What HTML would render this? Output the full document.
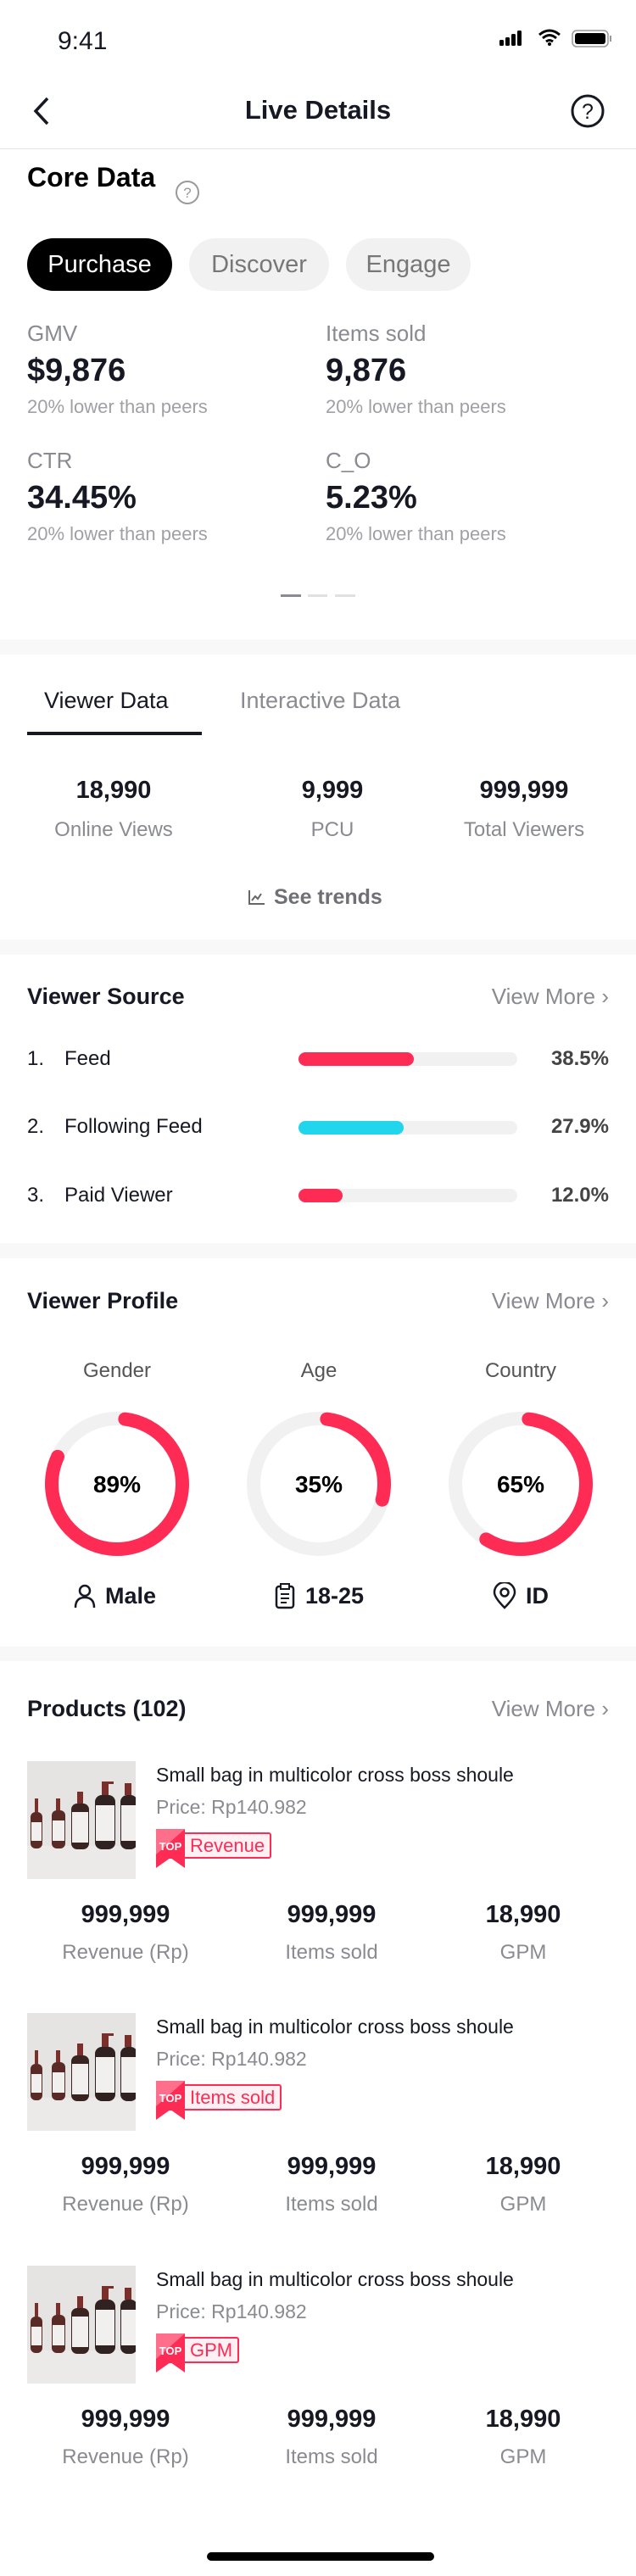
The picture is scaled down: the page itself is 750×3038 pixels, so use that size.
<!DOCTYPE html>
<html><head><meta charset="utf-8">
<style>
*{margin:0;padding:0;box-sizing:border-box}
body{width:750px;height:3038px;background:#fff;position:relative;overflow:hidden;font-family:"Liberation Sans",sans-serif;color:#161823}
.a{position:absolute;white-space:nowrap;line-height:1}
.g{color:#8a8b91}
.b{font-weight:bold}
.band{position:absolute;left:0;width:750px;background:#f8f8f8}
.c{text-align:center;width:240px}
.vm{position:absolute;right:32px;font-size:26px;color:#8a8b91;line-height:1;white-space:nowrap}
.bar{position:absolute;left:352px;width:258px;height:16px;border-radius:8px;background:#f1f1f2}
.bar i{position:absolute;left:0;top:0;height:16px;border-radius:8px;background:#fe2c55}
.pill{position:absolute;top:281px;height:62px;border-radius:31px;font-size:29px;line-height:62px;text-align:center}
.badge{position:absolute;height:31px;border:2px solid #fe2c55;border-radius:3px;background:#fff0f3;color:#fe2c55;font-size:22px;line-height:27px;padding:0 6px 0 38px}
.sub{font-size:22px;color:#a0a0a5}
.pct{position:absolute;right:32px;font-size:24px;color:#444;font-weight:bold;line-height:1}
</style></head><body>
<div class="a" style="left:68px;top:34px;font-size:30px">9:41</div>
<svg class="a" style="left:586px;top:34px" width="140" height="24">
<rect x="3" y="13" width="5" height="7" rx="1.5" fill="#000"/><rect x="10" y="10" width="5" height="10" rx="1.5" fill="#000"/><rect x="17" y="6" width="5" height="14" rx="1.5" fill="#000"/><rect x="24" y="2" width="5" height="18" rx="1.5" fill="#000"/>
<path d="M50 7 Q62 -3 74 7 M54 11 Q62 4 70 11 M58 15 Q62 12 66 15" stroke="#000" stroke-width="3" fill="none"/><circle cx="62" cy="18" r="2" fill="#000"/>
<rect x="89" y="2" width="42" height="19" rx="5" fill="none" stroke="#999" stroke-width="1.5"/><rect x="92" y="5" width="36" height="13" rx="3" fill="#000"/><rect x="133" y="8" width="2" height="7" fill="#999"/>
</svg>
<svg class="a" style="left:32px;top:112px" width="30" height="40"><path d="M24 4 L10 19 L24 34" stroke="#161823" stroke-width="3.5" fill="none"/></svg>
<div class="a b" style="left:0;width:750px;text-align:center;top:114px;font-size:31px">Live Details</div>
<svg class="a" style="left:672px;top:110px" width="42" height="42"><circle cx="21" cy="21" r="18" stroke="#161823" stroke-width="3" fill="none"/><text x="21" y="30" text-anchor="middle" font-size="25" font-family="Liberation Sans" fill="#161823">?</text></svg>
<div style="position:absolute;left:0;top:175px;width:750px;height:1px;background:#e3e3e4"></div>

<div class="a b" style="left:32px;top:193px;font-size:32px;color:#000">Core Data</div>
<svg class="a" style="left:206px;top:212px" width="30" height="30"><circle cx="15" cy="15" r="13" stroke="#999" stroke-width="2" fill="none"/><text x="15" y="21" text-anchor="middle" font-size="17" font-family="Liberation Sans" fill="#999">?</text></svg>
<div class="pill" style="left:32px;width:171px;background:#000;color:#fff">Purchase</div>
<div class="pill" style="left:223px;width:165px;background:#f1f1f2;color:#777">Discover</div>
<div class="pill" style="left:408px;width:147px;background:#f1f1f2;color:#777">Engage</div>

<div class="a g" style="left:32px;top:380px;font-size:26px">GMV</div>
<div class="a b" style="left:32px;top:418px;font-size:38px">$9,876</div>
<div class="a sub" style="left:32px;top:469px">20% lower than peers</div>
<div class="a g" style="left:384px;top:380px;font-size:26px">Items sold</div>
<div class="a b" style="left:384px;top:418px;font-size:38px">9,876</div>
<div class="a sub" style="left:384px;top:469px">20% lower than peers</div>
<div class="a g" style="left:32px;top:530px;font-size:26px">CTR</div>
<div class="a b" style="left:32px;top:568px;font-size:38px">34.45%</div>
<div class="a sub" style="left:32px;top:619px">20% lower than peers</div>
<div class="a g" style="left:384px;top:530px;font-size:26px">C_O</div>
<div class="a b" style="left:384px;top:568px;font-size:38px">5.23%</div>
<div class="a sub" style="left:384px;top:619px">20% lower than peers</div>
<div style="position:absolute;left:331px;top:701px;width:24px;height:3px;background:#8a8b91"></div>
<div style="position:absolute;left:363px;top:701px;width:23px;height:3px;background:#e0e0e2"></div>
<div style="position:absolute;left:395px;top:701px;width:24px;height:3px;background:#e0e0e2"></div>

<div class="band" style="top:754px;height:18px"></div>
<div class="a" style="left:52px;top:813px;font-size:27px">Viewer Data</div>
<div class="a g" style="left:283px;top:813px;font-size:27px">Interactive Data</div>
<div style="position:absolute;left:32px;top:863px;width:206px;height:4px;background:#161823"></div>
<div class="a b c" style="left:14px;top:918px;font-size:29px">18,990</div>
<div class="a g c" style="left:14px;top:967px;font-size:24px">Online Views</div>
<div class="a b c" style="left:272px;top:918px;font-size:29px">9,999</div>
<div class="a g c" style="left:272px;top:967px;font-size:24px">PCU</div>
<div class="a b c" style="left:498px;top:918px;font-size:29px">999,999</div>
<div class="a g c" style="left:498px;top:967px;font-size:24px">Total Viewers</div>
<svg class="a" style="left:292px;top:1048px" width="22" height="22"><path d="M2 2 V18 H20 M5 14 L9 9 L12 12 L16 6" stroke="#666" stroke-width="2" fill="none"/></svg>
<div class="a b" style="left:323px;top:1046px;font-size:25px;color:#6f7075">See trends</div>

<div class="band" style="top:1108px;height:18px"></div>
<div class="a b" style="left:32px;top:1162px;font-size:27px">Viewer Source</div>
<div class="vm" style="top:1162px">View More ›</div>
<div class="a" style="left:32px;top:1237px;font-size:24px">1.</div><div class="a" style="left:76px;top:1237px;font-size:24px">Feed</div>
<div class="bar" style="top:1241px"><i style="width:136px"></i></div>
<div class="pct" style="top:1237px">38.5%</div>
<div class="a" style="left:32px;top:1317px;font-size:24px">2.</div><div class="a" style="left:76px;top:1317px;font-size:24px">Following Feed</div>
<div class="bar" style="top:1322px"><i style="width:124px;background:#20d5ec"></i></div>
<div class="pct" style="top:1317px">27.9%</div>
<div class="a" style="left:32px;top:1398px;font-size:24px">3.</div><div class="a" style="left:76px;top:1398px;font-size:24px">Paid Viewer</div>
<div class="bar" style="top:1402px"><i style="width:52px"></i></div>
<div class="pct" style="top:1398px">12.0%</div>

<div class="band" style="top:1466px;height:18px"></div>
<div class="a b" style="left:32px;top:1521px;font-size:27px">Viewer Profile</div>
<div class="vm" style="top:1521px">View More ›</div>
<div class="a c" style="left:18px;top:1605px;font-size:24px;color:#555">Gender</div>
<div class="a c" style="left:256px;top:1605px;font-size:24px;color:#555">Age</div>
<div class="a c" style="left:494px;top:1605px;font-size:24px;color:#555">Country</div>
<svg class="a" style="left:0;top:1650px" width="750" height="200">
<g fill="none" stroke-width="16" stroke-linecap="round">
<circle cx="138" cy="100" r="77" stroke="#f1f1f2"/>
<circle cx="376" cy="100" r="77" stroke="#f1f1f2"/>
<circle cx="614" cy="100" r="77" stroke="#f1f1f2"/>
<circle cx="138" cy="100" r="77" stroke="#fe2c55" pathLength="100" stroke-dasharray="80 100" transform="rotate(-83 138 100)"/>
<circle cx="376" cy="100" r="77" stroke="#fe2c55" pathLength="100" stroke-dasharray="27 100" transform="rotate(-83 376 100)"/>
<circle cx="614" cy="100" r="77" stroke="#fe2c55" pathLength="100" stroke-dasharray="57 100" transform="rotate(-83 614 100)"/>
</g>
<g font-family="Liberation Sans" font-size="28" font-weight="bold" text-anchor="middle" fill="#000"><text x="138" y="110">89%</text><text x="376" y="110">35%</text><text x="614" y="110">65%</text></g>
</svg>
<svg class="a" style="left:86px;top:1868px" width="30" height="30"><circle cx="14" cy="8" r="6" stroke="#161823" stroke-width="2.5" fill="none"/><path d="M3 28 Q3 16 14 16 Q25 16 25 28" stroke="#161823" stroke-width="2.5" fill="none"/></svg>
<div class="a b" style="left:124px;top:1869px;font-size:27px">Male</div>
<svg class="a" style="left:323px;top:1866px" width="26" height="32"><rect x="3" y="5" width="20" height="25" rx="3" stroke="#161823" stroke-width="2.5" fill="none"/><rect x="8" y="2" width="10" height="6" fill="#fff" stroke="#161823" stroke-width="2"/><path d="M8 14H18M8 19H18M8 24H15" stroke="#161823" stroke-width="2"/></svg>
<div class="a b" style="left:360px;top:1869px;font-size:27px">18-25</div>
<svg class="a" style="left:581px;top:1866px" width="28" height="32"><path d="M14 30 Q2 18 2 12 A12 12 0 0 1 26 12 Q26 18 14 30Z" stroke="#161823" stroke-width="2.5" fill="none"/><circle cx="14" cy="12" r="4.5" stroke="#161823" stroke-width="2.5" fill="none"/></svg>
<div class="a b" style="left:620px;top:1869px;font-size:27px">ID</div>

<div class="band" style="top:1942px;height:17px"></div>
<div class="a b" style="left:32px;top:2002px;font-size:27px">Products (102)</div>
<div class="vm" style="top:2002px">View More ›</div>

<div style="position:absolute;left:0;top:2077px;width:750px;height:260px">
<svg style="position:absolute;left:32px;top:0" width="128" height="139"><rect width="128" height="139" fill="#e6e4e2"/><rect y="100" width="128" height="39" fill="#eceae8"/>
<g><rect x="4" y="60" width="14" height="43" rx="6" fill="#5a2a26"/><rect x="5" y="72" width="12" height="22" fill="#f2f0ee"/><rect x="9" y="44" width="4" height="16" fill="#7a2f2a"/>
<rect x="29" y="58" width="16" height="45" rx="6" fill="#5a2a26"/><rect x="30" y="70" width="14" height="24" fill="#f2f0ee"/><rect x="34" y="44" width="5" height="14" fill="#7a2f2a"/>
<rect x="52" y="50" width="21" height="54" rx="7" fill="#3a2422"/><rect x="53" y="60" width="19" height="36" fill="#f2f0ee"/><rect x="59" y="36" width="7" height="14" fill="#7a2f2a"/>
<rect x="80" y="40" width="24" height="64" rx="8" fill="#2f2220"/><rect x="81" y="52" width="22" height="42" fill="#f2f0ee"/><rect x="88" y="26" width="8" height="14" fill="#7a2f2a"/><rect x="88" y="24" width="14" height="3" fill="#7a2f2a"/>
<rect x="110" y="40" width="20" height="64" rx="8" fill="#2f2220"/><rect x="111" y="52" width="18" height="42" fill="#f2f0ee"/><rect x="115" y="26" width="8" height="14" fill="#7a2f2a"/></g></svg>
<div class="a" style="left:184px;top:5px;font-size:23px">Small bag in multicolor cross boss shoule</div>
<div class="a" style="left:184px;top:43px;font-size:23px;color:#8a8b91">Price: Rp140.982</div>
<div class="badge" style="left:184px;top:84px">Revenue</div>
<svg style="position:absolute;left:184px;top:80px" width="35" height="46"><path d="M0 0H34V46L17 34L0 46Z" fill="#fe2c55"/><path d="M0 0H34L0 30Z" fill="#ff6f8c"/><text x="17" y="25" text-anchor="middle" font-size="13" font-weight="bold" font-family="Liberation Sans" fill="#fff">TOP</text></svg>
<div class="a b c" style="left:28px;top:167px;font-size:29px">999,999</div>
<div class="a g c" style="left:28px;top:214px;font-size:24px">Revenue (Rp)</div>
<div class="a b c" style="left:271px;top:167px;font-size:29px">999,999</div>
<div class="a g c" style="left:271px;top:214px;font-size:24px">Items sold</div>
<div class="a b c" style="left:497px;top:167px;font-size:29px">18,990</div>
<div class="a g c" style="left:497px;top:214px;font-size:24px">GPM</div>
</div>

<div style="position:absolute;left:0;top:2374px;width:750px;height:260px">
<svg style="position:absolute;left:32px;top:0" width="128" height="139"><rect width="128" height="139" fill="#e6e4e2"/><rect y="100" width="128" height="39" fill="#eceae8"/>
<g><rect x="4" y="60" width="14" height="43" rx="6" fill="#5a2a26"/><rect x="5" y="72" width="12" height="22" fill="#f2f0ee"/><rect x="9" y="44" width="4" height="16" fill="#7a2f2a"/>
<rect x="29" y="58" width="16" height="45" rx="6" fill="#5a2a26"/><rect x="30" y="70" width="14" height="24" fill="#f2f0ee"/><rect x="34" y="44" width="5" height="14" fill="#7a2f2a"/>
<rect x="52" y="50" width="21" height="54" rx="7" fill="#3a2422"/><rect x="53" y="60" width="19" height="36" fill="#f2f0ee"/><rect x="59" y="36" width="7" height="14" fill="#7a2f2a"/>
<rect x="80" y="40" width="24" height="64" rx="8" fill="#2f2220"/><rect x="81" y="52" width="22" height="42" fill="#f2f0ee"/><rect x="88" y="26" width="8" height="14" fill="#7a2f2a"/><rect x="88" y="24" width="14" height="3" fill="#7a2f2a"/>
<rect x="110" y="40" width="20" height="64" rx="8" fill="#2f2220"/><rect x="111" y="52" width="18" height="42" fill="#f2f0ee"/><rect x="115" y="26" width="8" height="14" fill="#7a2f2a"/></g></svg>
<div class="a" style="left:184px;top:5px;font-size:23px">Small bag in multicolor cross boss shoule</div>
<div class="a" style="left:184px;top:43px;font-size:23px;color:#8a8b91">Price: Rp140.982</div>
<div class="badge" style="left:184px;top:84px">Items sold</div>
<svg style="position:absolute;left:184px;top:80px" width="35" height="46"><path d="M0 0H34V46L17 34L0 46Z" fill="#fe2c55"/><path d="M0 0H34L0 30Z" fill="#ff6f8c"/><text x="17" y="25" text-anchor="middle" font-size="13" font-weight="bold" font-family="Liberation Sans" fill="#fff">TOP</text></svg>
<div class="a b c" style="left:28px;top:167px;font-size:29px">999,999</div>
<div class="a g c" style="left:28px;top:214px;font-size:24px">Revenue (Rp)</div>
<div class="a b c" style="left:271px;top:167px;font-size:29px">999,999</div>
<div class="a g c" style="left:271px;top:214px;font-size:24px">Items sold</div>
<div class="a b c" style="left:497px;top:167px;font-size:29px">18,990</div>
<div class="a g c" style="left:497px;top:214px;font-size:24px">GPM</div>
</div>

<div style="position:absolute;left:0;top:2672px;width:750px;height:260px">
<svg style="position:absolute;left:32px;top:0" width="128" height="139"><rect width="128" height="139" fill="#e6e4e2"/><rect y="100" width="128" height="39" fill="#eceae8"/>
<g><rect x="4" y="60" width="14" height="43" rx="6" fill="#5a2a26"/><rect x="5" y="72" width="12" height="22" fill="#f2f0ee"/><rect x="9" y="44" width="4" height="16" fill="#7a2f2a"/>
<rect x="29" y="58" width="16" height="45" rx="6" fill="#5a2a26"/><rect x="30" y="70" width="14" height="24" fill="#f2f0ee"/><rect x="34" y="44" width="5" height="14" fill="#7a2f2a"/>
<rect x="52" y="50" width="21" height="54" rx="7" fill="#3a2422"/><rect x="53" y="60" width="19" height="36" fill="#f2f0ee"/><rect x="59" y="36" width="7" height="14" fill="#7a2f2a"/>
<rect x="80" y="40" width="24" height="64" rx="8" fill="#2f2220"/><rect x="81" y="52" width="22" height="42" fill="#f2f0ee"/><rect x="88" y="26" width="8" height="14" fill="#7a2f2a"/><rect x="88" y="24" width="14" height="3" fill="#7a2f2a"/>
<rect x="110" y="40" width="20" height="64" rx="8" fill="#2f2220"/><rect x="111" y="52" width="18" height="42" fill="#f2f0ee"/><rect x="115" y="26" width="8" height="14" fill="#7a2f2a"/></g></svg>
<div class="a" style="left:184px;top:5px;font-size:23px">Small bag in multicolor cross boss shoule</div>
<div class="a" style="left:184px;top:43px;font-size:23px;color:#8a8b91">Price: Rp140.982</div>
<div class="badge" style="left:184px;top:84px">GPM</div>
<svg style="position:absolute;left:184px;top:80px" width="35" height="46"><path d="M0 0H34V46L17 34L0 46Z" fill="#fe2c55"/><path d="M0 0H34L0 30Z" fill="#ff6f8c"/><text x="17" y="25" text-anchor="middle" font-size="13" font-weight="bold" font-family="Liberation Sans" fill="#fff">TOP</text></svg>
<div class="a b c" style="left:28px;top:167px;font-size:29px">999,999</div>
<div class="a g c" style="left:28px;top:214px;font-size:24px">Revenue (Rp)</div>
<div class="a b c" style="left:271px;top:167px;font-size:29px">999,999</div>
<div class="a g c" style="left:271px;top:214px;font-size:24px">Items sold</div>
<div class="a b c" style="left:497px;top:167px;font-size:29px">18,990</div>
<div class="a g c" style="left:497px;top:214px;font-size:24px">GPM</div>
</div>

<div style="position:absolute;left:244px;top:3010px;width:268px;height:10px;border-radius:5px;background:#000"></div>
</body></html>
